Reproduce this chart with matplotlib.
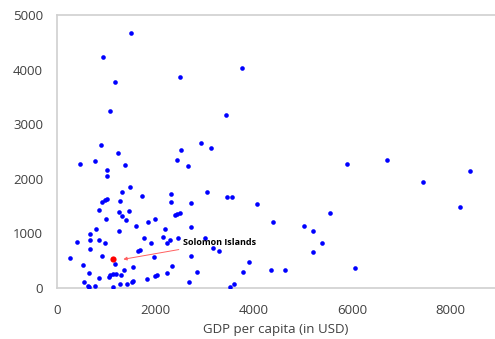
import matplotlib
matplotlib.use("Agg")
import matplotlib.pyplot as plt

gdp = [1498, 929, 1185, 1077, 3767, 2506, 3441, 888, 1240, 474, 772, 1382, 1022, 1022,
       1484, 1321, 1734, 985, 1010, 908, 1287, 860, 1260, 1470, 1321, 1396, 990, 1856,
       1992, 1606, 799, 1260, 2195, 2307, 2311, 2927, 3130, 2527, 2445, 2656, 3043, 2717,
       3461, 3551, 4071, 2506, 2400, 2430, 4397, 5027, 2730, 5901, 6701, 7445, 8401, 5542,
       8191, 664, 413, 671, 854, 982, 1762, 1911, 2148, 2229, 2297, 671, 1681, 1652, 264,
       921, 1972, 1185, 522, 1551, 1356, 644, 1077, 1063, 1132, 1193, 1301, 860, 1829,
       1998, 2026, 2242, 543, 1545, 1518, 1423, 1274, 640, 655, 766, 1138, 2459, 3008,
       3177, 3286, 2717, 3896, 3774, 2846, 2331, 2689, 3522, 3598, 4350, 4634, 5197, 5211,
       5393, 6057]
value = [4673, 4233, 3774, 3248, 4031, 3866, 3163, 2624, 2477, 2275, 2330, 2251, 2154, 2050,
         1848, 1750, 1688, 1615, 1630, 1567, 1591, 1426, 1389, 1413, 1310, 1242, 1255, 1205,
         1255, 1127, 1083, 1040, 1072, 1722, 1567, 2655, 2563, 2532, 2349, 2228, 1756, 1554,
         1664, 1664, 1530, 1376, 1330, 1345, 1205, 1127, 1108, 2264, 2338, 1945, 2147, 1371,
         1475, 980, 839, 881, 869, 820, 906, 820, 925, 815, 875, 716, 697, 673, 539,
         582, 558, 435, 411, 380, 319, 264, 233, 191, 257, 246, 227, 172, 165,
         215, 233, 275, 105, 117, 105, 68, 62, 40, 15, 37, 13, 906, 918,
         723, 668, 582, 477, 283, 294, 404, 99, 18, 62, 325, 330, 1040, 655,
         820, 367]

hl_name = "Solomon Islands"
hl_gdp = 1138
hl_value = 521

xticks = [0, 2000, 4000, 6000, 8000]
yticks = [0, 1000, 2000, 3000, 4000, 5000]

plt.rcParams['font.family'] = ['Open Sans', 'DejaVu Sans']

fig = plt.figure(figsize=(4.95, 3.39), dpi=100)
ax = fig.add_axes([57/495, 1 - 287.7/339, 1 - 57/495, (287.7 - 15)/339])

ax.scatter(gdp, value, s=11, color='#0000ff', linewidths=0, zorder=3)
ax.scatter([hl_gdp], [hl_value], s=20, color='#ff0000', linewidths=0, zorder=4)

ax.annotate(hl_name, xy=(hl_gdp + 210, hl_value), xytext=(2560, 830),
            fontsize=6.5, fontweight='bold', color='black', va='center', ha='left',
            arrowprops=dict(arrowstyle='-|>', color='#ff6060', lw=0.7,
                            mutation_scale=5, shrinkA=1, shrinkB=0))

ax.set_xlim(0, 8902)
ax.set_ylim(0, 5000)
ax.set_xticks(xticks)
ax.set_yticks(yticks)
ax.tick_params(length=0, labelsize=9.5, labelcolor='#404040')
ax.tick_params(axis='x', pad=12)
ax.tick_params(axis='y', pad=10)

for s in ['left', 'top', 'bottom']:
    ax.spines[s].set_color('#d0d0d0')
    ax.spines[s].set_linewidth(1.2)
ax.spines['right'].set_visible(False)

ax.set_xlabel('GDP per capita (in USD)', fontsize=9.5, color='#404040', labelpad=4)

fig.savefig('out.png', dpi=100)
